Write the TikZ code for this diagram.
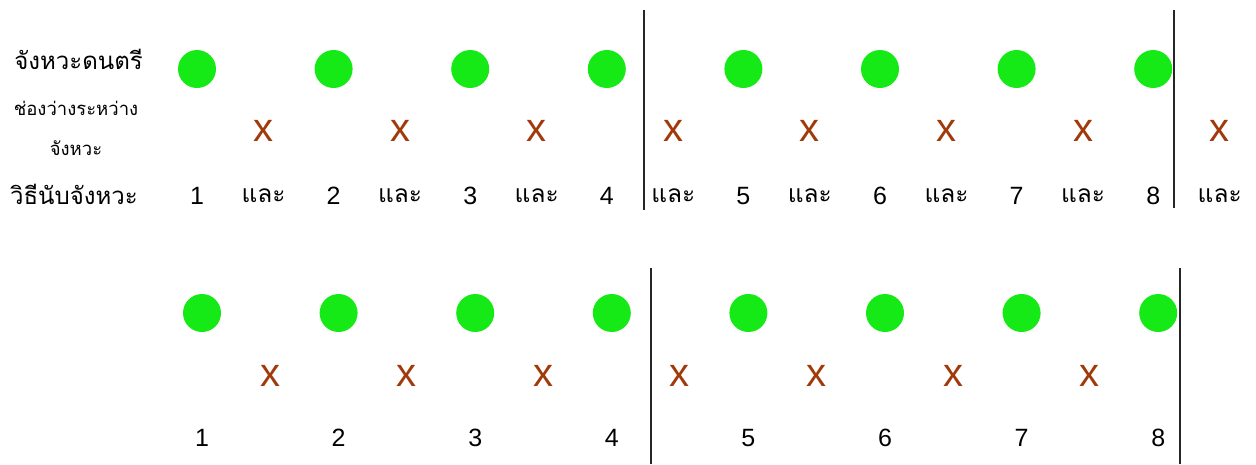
\documentclass[tikz,border=0pt]{standalone}
\usepackage{fontspec}
\setmainfont{Liberation Sans}
\newfontfamily\thaifont[Script=Thai]{Loma}
\definecolor{dotgreen}{RGB}{22,234,22}
\definecolor{xbrown}{RGB}{160,58,10}
\tikzset{
  beat/.style={circle,fill=dotgreen,minimum size=38pt,inner sep=0pt},
  gapx/.style={text=xbrown,font=\fontsize{40}{40}\selectfont,inner sep=0pt},
  num/.style={font=\fontsize{25}{25}\selectfont,inner sep=0pt},
  lae/.style={font=\thaifont\fontsize{24.5}{24.5}\selectfont,inner sep=0pt},
  biglabel/.style={font=\thaifont\fontsize{24}{24}\selectfont,inner sep=0pt},
  smalllabel/.style={font=\thaifont\fontsize{18.5}{18.5}\selectfont,inner sep=0pt},
  barline/.style={line width=2.4pt,black!85}
}
\begin{document}
\begin{tikzpicture}[x=1pt,y=-1pt]
\useasboundingbox (0,0) rectangle (1256,464);
% labels
\node[biglabel,anchor=base east] (l1) at (143,69) {จังหวะดนตรี};
\node[smalllabel,anchor=base] (l2) at (76,115) {ช่องว่างระหว่าง};
\node[smalllabel,anchor=base] (l3) at (76,155) {จังหวะ};
\node[biglabel,anchor=base east] (l4) at (138,204) {วิธีนับจังหวะ};
% top row
\foreach \i in {1,...,8}{
  \pgfmathsetmacro{\xa}{197+136.6*(\i-1)}
  \pgfmathsetmacro{\xb}{263.5+136.6*(\i-1)}
  \node[beat] (ta\i) at (\xa,69) {};
  \node[gapx] (tx\i) at (\xb,131) {x};
  \node[num] (tn\i) at (\xa,196) {\i};
  \node[lae] (tl\i) at (\xb,196) {และ};
}
% bottom row
\foreach \i in {1,...,8}{
  \pgfmathsetmacro{\xa}{202+136.6*(\i-1)}
  \node[beat] (ba\i) at (\xa,313) {};
  \node[num] (bn\i) at (\xa,438) {\i};
}
\foreach \i in {1,...,7}{
  \pgfmathsetmacro{\xb}{270+136.6*(\i-1)}
  \node[gapx] (bx\i) at (\xb,376) {x};
}
% bar lines
\coordinate (t1a) at (644,10);  \coordinate (t1b) at (644,210);
\coordinate (t2a) at (1174,10); \coordinate (t2b) at (1174,208);
\coordinate (b1a) at (651,268); \coordinate (b1b) at (651,464);
\coordinate (b2a) at (1180,268);\coordinate (b2b) at (1180,464);
\draw[barline] (t1a) -- (t1b);
\draw[barline] (t2a) -- (t2b);
\draw[barline] (b1a) -- (b1b);
\draw[barline] (b2a) -- (b2b);
\end{tikzpicture}
\end{document}
